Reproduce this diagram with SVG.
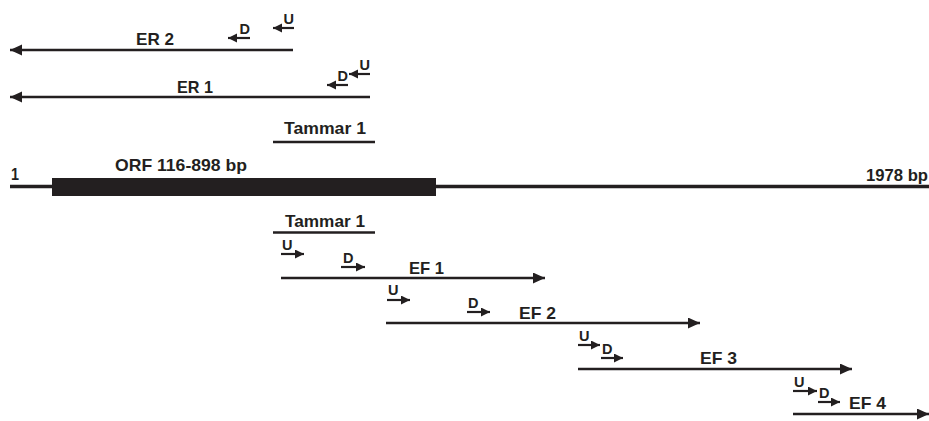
<svg xmlns="http://www.w3.org/2000/svg" width="929" height="421" viewBox="0 0 929 421">
  <style>
    text { font-family: "Liberation Sans", Arial, Helvetica, sans-serif; font-weight: bold; fill: #231f20; }
    .lbl { font-size: 16.5px; }
    .pr { font-size: 14.5px; }
    .clone { stroke: #231f20; stroke-width: 2.5; fill: none; }
    .primer { stroke: #231f20; stroke-width: 2.2; fill: none; }
    .probe { stroke: #231f20; stroke-width: 2.5; fill: none; }
  </style>
  <defs>
    <marker id="headBig" markerUnits="userSpaceOnUse" markerWidth="14" markerHeight="12" refX="12" refY="5.5" orient="auto">
      <path d="M0,0 L12,5.5 L0,11 Z" fill="#231f20"/>
    </marker>
    <marker id="headSmall" markerUnits="userSpaceOnUse" markerWidth="11" markerHeight="10" refX="9" refY="4.5" orient="auto">
      <path d="M0,0 L9,4.5 L0,9 Z" fill="#231f20"/>
    </marker>
  </defs>

  <rect width="929" height="421" fill="#ffffff"/>

  <!-- gene backbone with ORF block -->
  <g id="gene">
    <line x1="10" y1="186.5" x2="929" y2="186.5" stroke="#231f20" stroke-width="3.5"/>
    <rect x="52" y="178" width="384" height="18" fill="#231f20"/>
    <text class="lbl" x="11" y="180" textLength="8" lengthAdjust="spacingAndGlyphs">1</text>
    <text class="lbl" x="115" y="171" textLength="132" lengthAdjust="spacingAndGlyphs">ORF 116-898 bp</text>
    <text class="lbl" x="866" y="181" textLength="62" lengthAdjust="spacingAndGlyphs">1978 bp</text>
  </g>

  <!-- Tammar 1 probe, above and below the gene -->
  <g id="tammar-top">
    <line class="probe" x1="273" y1="142" x2="375" y2="142"/>
    <text class="lbl" x="284" y="134" textLength="82" lengthAdjust="spacingAndGlyphs">Tammar 1</text>
  </g>
  <g id="tammar-bottom">
    <line class="probe" x1="273" y1="232.5" x2="375" y2="232.5"/>
    <text class="lbl" x="285" y="226.5" textLength="80" lengthAdjust="spacingAndGlyphs">Tammar 1</text>
  </g>

  <!-- reverse clones -->
  <g id="ER2">
    <text class="lbl" x="136" y="45" textLength="38" lengthAdjust="spacingAndGlyphs">ER 2</text>
    <text class="pr" x="250" y="34" text-anchor="end">D</text>
    <text class="pr" x="294" y="23.5" text-anchor="end">U</text>
  </g>
  <g id="ER1">
    <text class="lbl" x="177" y="93" textLength="36" lengthAdjust="spacingAndGlyphs">ER 1</text>
    <text class="pr" x="348" y="81" text-anchor="end">D</text>
    <text class="pr" x="370" y="70" text-anchor="end">U</text>
  </g>

  <!-- forward clones -->
  <g id="EF1">
    <text class="lbl" x="409" y="274" textLength="35" lengthAdjust="spacingAndGlyphs">EF 1</text>
    <text class="pr" x="282" y="249.5">U</text>
    <text class="pr" x="343" y="263">D</text>
  </g>
  <g id="EF2">
    <text class="lbl" x="519" y="318.5" textLength="37" lengthAdjust="spacingAndGlyphs">EF 2</text>
    <text class="pr" x="388" y="295">U</text>
    <text class="pr" x="468" y="307.5">D</text>
  </g>
  <g id="EF3">
    <text class="lbl" x="700" y="364" textLength="37" lengthAdjust="spacingAndGlyphs">EF 3</text>
    <text class="pr" x="579" y="340.5">U</text>
    <text class="pr" x="602" y="353.5">D</text>
  </g>
  <g id="EF4">
    <text class="lbl" x="849" y="409" textLength="37" lengthAdjust="spacingAndGlyphs">EF 4</text>
    <text class="pr" x="794" y="386.5">U</text>
    <text class="pr" x="819" y="397.5">D</text>
  </g>

  <!-- clone spans and primer arrows -->
  <g id="connectors">
    <line class="clone" x1="293" y1="50" x2="10" y2="50" marker-end="url(#headBig)"/>
    <line class="primer" x1="250" y1="38" x2="228" y2="38" marker-end="url(#headSmall)"/>
    <line class="primer" x1="294" y1="28" x2="273" y2="28" marker-end="url(#headSmall)"/>

    <line class="clone" x1="370" y1="97" x2="10" y2="97" marker-end="url(#headBig)"/>
    <line class="primer" x1="348" y1="85" x2="327" y2="85" marker-end="url(#headSmall)"/>
    <line class="primer" x1="370" y1="74" x2="349" y2="74" marker-end="url(#headSmall)"/>

    <line class="clone" x1="281" y1="278" x2="545" y2="278" marker-end="url(#headBig)"/>
    <line class="primer" x1="281" y1="254" x2="304" y2="254" marker-end="url(#headSmall)"/>
    <line class="primer" x1="341" y1="267" x2="365" y2="267" marker-end="url(#headSmall)"/>

    <line class="clone" x1="386" y1="323" x2="700" y2="323" marker-end="url(#headBig)"/>
    <line class="primer" x1="387" y1="300" x2="410" y2="300" marker-end="url(#headSmall)"/>
    <line class="primer" x1="467" y1="312" x2="490" y2="312" marker-end="url(#headSmall)"/>

    <line class="clone" x1="578" y1="369" x2="852" y2="369" marker-end="url(#headBig)"/>
    <line class="primer" x1="578" y1="345" x2="600" y2="345" marker-end="url(#headSmall)"/>
    <line class="primer" x1="601" y1="358" x2="623" y2="358" marker-end="url(#headSmall)"/>

    <line class="clone" x1="793" y1="414" x2="929" y2="414" marker-end="url(#headBig)"/>
    <line class="primer" x1="793" y1="391" x2="817" y2="391" marker-end="url(#headSmall)"/>
    <line class="primer" x1="818" y1="402" x2="840" y2="402" marker-end="url(#headSmall)"/>
  </g>
</svg>
